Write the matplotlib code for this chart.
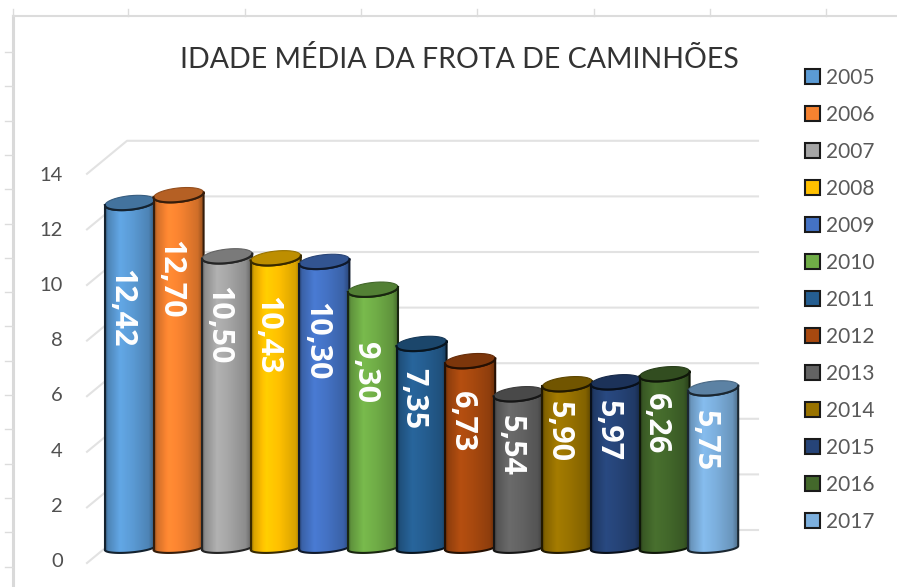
import numpy as np
import matplotlib
matplotlib.use("Agg")
import matplotlib.pyplot as plt
from matplotlib.colors import to_rgb
from matplotlib.patches import Patch, Polygon

plt.rcParams["font.family"] = ["Lato", "DejaVu Sans"]

# dados do gráfico
anos = ["2005", "2006", "2007", "2008", "2009", "2010", "2011",
        "2012", "2013", "2014", "2015", "2016", "2017"]
idade = [12.42, 12.70, 10.50, 10.43, 10.30, 9.30, 7.35,
         6.73, 5.54, 5.90, 5.97, 6.26, 5.75]
rotulos = ["12,42", "12,70", "10,50", "10,43", "10,30", "9,30", "7,35",
           "6,73", "5,54", "5,90", "5,97", "6,26", "5,75"]
ticks = [0, 2, 4, 6, 8, 10, 12, 14]

cores = ["#5B9BD5", "#F58230", "#A5A5A5", "#FFC000", "#4472C4", "#70AD47", "#255E91",
         "#A8490F", "#636363", "#997300", "#264478", "#43682B", "#7CAFDD"]

# quanto cada rótulo desce a partir do topo da coluna (em pixels)
queda_rotulo = [106, 84, 69, 77, 80, 83, 55, 61, 52, 48, 49, 50, 52]

W, H = 897, 587
PX_X = 48.6   # pixels por categoria
PX_Y = 27.8   # pixels por unidade de idade
X0 = 130      # centro da primeira coluna
Y0 = 548      # linha do zero das colunas
MEIA_LARG = 25 / PX_X


def sombra(cor, f):
    return np.clip(np.array(to_rgb(cor)) * f, 0, 1)


def arco(x, y, ini, fim, alt_px, incl_px):
    # arco elíptico levemente inclinado, em coordenadas de dados
    t = np.linspace(ini, fim, 40)
    xs = x + MEIA_LARG * np.cos(t)
    ys = y + (alt_px * np.sin(t) + incl_px * np.cos(t)) / PX_Y
    return np.column_stack([xs, ys])


def desenha_cilindro(ax, x, v, cor, z):
    frente_topo = arco(x, v, np.pi, 2 * np.pi, 7, 2.5)
    frente_base = arco(x, 0, np.pi, 2 * np.pi, 4.5, 2)
    contorno = np.vstack([frente_base, frente_topo[::-1]])
    corpo = Polygon(contorno, closed=True, facecolor="none", edgecolor="none",
                    transform=ax.transData)
    ax.add_patch(corpo)

    # gradiente horizontal do corpo
    pos = np.linspace(0, 1, 60)
    fator = np.interp(pos, [0, 0.05, 0.3, 0.55, 0.88, 1], [0.55, 0.85, 1.08, 1.0, 0.85, 0.6])
    img = np.array([[sombra(cor, f) for f in fator]])
    im = ax.imshow(img, extent=(x - MEIA_LARG, x + MEIA_LARG, -0.5, v + 0.5),
                   aspect="auto", zorder=z, interpolation="bilinear")
    im.set_clip_path(corpo)

    borda = sombra(cor, 0.22)
    ax.plot(contorno[:, 0], contorno[:, 1], color=borda, lw=1.5, zorder=z + 0.1)
    ax.plot([contorno[-1, 0], contorno[0, 0]], [contorno[-1, 1], contorno[0, 1]],
            color=borda, lw=1.5, zorder=z + 0.1)

    # tampa superior
    tampa = arco(x, v, 0, 2 * np.pi, 7, 2.5)
    ax.add_patch(Polygon(tampa, closed=True, facecolor=sombra(cor, 0.74),
                         edgecolor=sombra(cor, 0.6), lw=0.8, zorder=z + 0.2))
    ax.plot(frente_topo[:, 0], frente_topo[:, 1], color=borda, lw=1.5, zorder=z + 0.3)


fig = plt.figure(figsize=(W / 100, H / 100), dpi=100, facecolor="white")

# régua da planilha em volta do gráfico
fundo = fig.add_axes([0, 0, 1, 1])
fundo.set_xlim(0, W)
fundo.set_ylim(H, 0)
fundo.axis("off")
fundo.plot([13, 13], [16, H], color="#d9d9d9", lw=2.2)
fundo.plot([13, W], [16, 16], color="#dcdcdc", lw=1.5)
for xt in [13, 128, 245, 361, 477, 594, 710, 826]:
    fundo.plot([xt, xt], [9, 16], color="#dcdcdc", lw=1)
for yt in np.arange(52, H, 34.3):
    fundo.plot([5, 13], [yt, yt], color="#dcdcdc", lw=1)

ax = fig.add_axes([0, 0, 1, 1], facecolor="none")

# grade do fundo e diagonais do piso
recuo_fundo = (Y0 - 530) / PX_Y
recuo_frente = (Y0 - 563) / PX_Y
esq_frente = (87 - X0) / PX_X
esq_fundo = (127 - X0) / PX_X
dir_fundo = (758 - X0) / PX_X
for t in ticks:
    ax.plot([esq_frente, esq_fundo, dir_fundo],
            [t + recuo_frente, t + recuo_fundo, t + recuo_fundo],
            color="#e2e2e2", lw=1.5, zorder=1)
    # os números do eixo ficam um pouco mais juntos que a grade
    ax.text((63 - X0) / PX_X, t + (Y0 - 561.5 - t * 3 / 14) / PX_Y,
            str(t), ha="right", va="center", fontsize=14.5, color="#505050")

for i, (v, cor, rot, queda) in enumerate(zip(idade, cores, rotulos, queda_rotulo)):
    z = 3 + i
    desenha_cilindro(ax, i, v, cor, z)
    ax.text(i - 8.5 / PX_X, v - queda / PX_Y, rot, rotation=270, ha="center", va="center",
            fontsize=22, fontweight="bold", family=["Open Sans", "DejaVu Sans"],
            color="white", zorder=z + 0.5)

ax.set_xlim(-X0 / PX_X, (W - X0) / PX_X)
ax.set_ylim((Y0 - H) / PX_Y, Y0 / PX_Y)
ax.axis("off")

ax.text((459 - X0) / PX_X, (Y0 - 59) / PX_Y, "IDADE MÉDIA DA FROTA DE CAMINHÕES",
        ha="center", va="center", fontsize=20.5, color="#333333")

marcas = [Patch(facecolor=c, edgecolor="#1a1a1a", lw=1.5) for c in cores]
ax.legend(marcas, anos, loc="upper left", bbox_to_anchor=(805 / W, 1 - 68 / H),
          bbox_transform=fig.transFigure, frameon=False, fontsize=15,
          labelcolor="#595959", handlelength=0.7, handleheight=0.7,
          handletextpad=0.3, labelspacing=0.815, borderpad=0, borderaxespad=0)

fig.savefig("out.png", dpi=100)
